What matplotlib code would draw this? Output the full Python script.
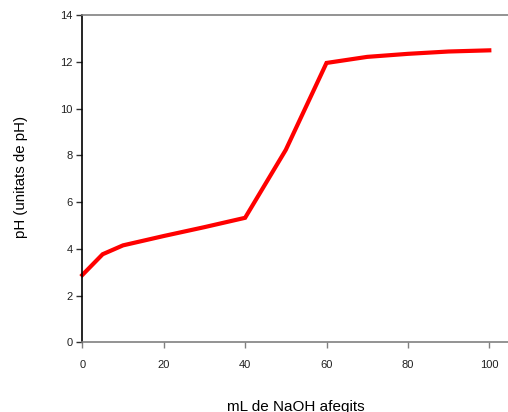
import matplotlib
matplotlib.use("Agg")
import matplotlib.pyplot as plt

ml_naoh = [0, 5, 10, 20, 30, 40, 50, 60, 70, 80, 90, 100]
ph = [2.88, 3.77, 4.15, 4.55, 4.93, 5.33, 8.24, 11.96, 12.22, 12.35, 12.45, 12.5]

plt.rcParams['font.family'] = ['Liberation Sans', 'DejaVu Sans']

fig = plt.figure(figsize=(5.08, 4.12), dpi=100)
ax = fig.add_axes([82.3/508, (412-342.3)/412, (508-82.3)/508, (342.3-15.3)/412])
ax.plot(ml_naoh, ph, color='#ff0000', lw=3, solid_joinstyle='miter', clip_on=False)
ax.set_xlim(0, (508-82.3)/4.07)
ax.set_ylim(0, 14)
ax.set_xticks([0, 20, 40, 60, 80, 100])
ax.set_yticks([0, 2, 4, 6, 8, 10, 12, 14])
ax.spines['right'].set_visible(False)
ax.spines['top'].set_color('#808080')
ax.spines['bottom'].set_color('#808080')
ax.spines['left'].set_color('black')
for s in ax.spines.values():
    s.set_linewidth(1.2)
ax.tick_params(axis='both', direction='out', length=4, width=1, labelsize=8, colors='#202020')
ax.tick_params(axis='x', pad=8.5, color='#808080')
ax.tick_params(axis='y', pad=3, color='#303030')
fig.text(296/508, 1-400.5/412, 'mL de NaOH afegits', ha='center', va='top', fontsize=11)
fig.text(21/508, 1-177/412, 'pH (unitats de pH)', ha='center', va='center', rotation=90, fontsize=10.8)
fig.savefig('out.png', dpi=100)
